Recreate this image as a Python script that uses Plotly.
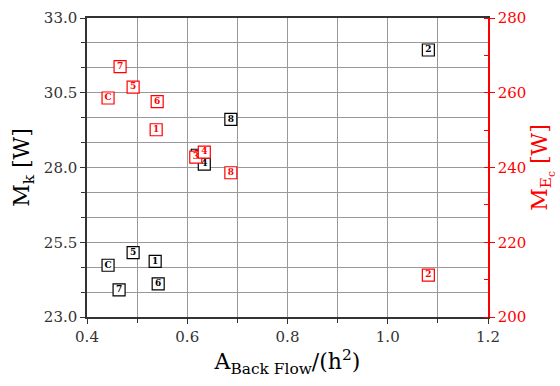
import plotly.graph_objects as go

labels_k = ["C", "1", "2", "3", "4", "5", "6", "7", "8"]
area_k = [0.442, 0.536, 1.081, 0.620, 0.634, 0.492, 0.542, 0.464, 0.687]
mk_vals = [24.73, 24.86, 31.93, 28.41, 28.11, 25.15, 24.11, 23.91, 29.61]

labels_e = ["C", "1", "2", "3", "4", "5", "6", "7", "8"]
area_e = [0.442, 0.538, 1.081, 0.617, 0.634, 0.492, 0.540, 0.466, 0.687]
me_vals = [258.6, 250.1, 211.2, 242.8, 244.1, 261.5, 257.6, 267.0, 238.6]

x_ticks = [0.4, 0.6, 0.8, 1.0, 1.2]
yk_ticks = [23.0, 25.5, 28.0, 30.5, 33.0]
ye_ticks = [200, 220, 240, 260, 280]

FONT = "DejaVu Serif"

fig = go.Figure()
fig.add_trace(go.Scatter(
    x=area_k, y=mk_vals, mode="markers+text", text=labels_k,
    textposition="middle center",
    textfont=dict(family=FONT, size=9, color="black", weight="bold"),
    marker=dict(symbol="square", size=12, color="white",
                line=dict(color="black", width=1.2)),
    showlegend=False, cliponaxis=False,
))
fig.add_trace(go.Scatter(
    x=area_e, y=me_vals, mode="markers+text", text=labels_e, yaxis="y2",
    textposition="middle center",
    textfont=dict(family=FONT, size=9, color="red", weight="bold"),
    marker=dict(symbol="square", size=12, color="white",
                line=dict(color="red", width=1.2)),
    showlegend=False, cliponaxis=False,
))

fig.update_layout(
    width=560, height=386,
    margin=dict(l=87, r=72, t=9, b=69),
    plot_bgcolor="white", paper_bgcolor="white",
    font=dict(family=FONT, size=15, color="#333"),
    xaxis=dict(
        range=[0.4, 1.2], tickvals=x_ticks, ticktext=[f"{v:.1f}" for v in x_ticks],
        showline=True, linecolor="#333", linewidth=1.5, mirror=True,
        ticks="outside", ticklen=5, tickcolor="#333",
        showgrid=True, gridcolor="#999", gridwidth=1,
        minor=dict(dtick=0.1, tick0=0.4, showgrid=True, gridcolor="#999",
                   ticks="outside", ticklen=4, tickcolor="#333"),
        zeroline=False,
        title=dict(text="A<sub>Back Flow</sub>/(h<sup>2</sup>)",
                   font=dict(family=FONT, size=22, color="black"), standoff=6),
        tickfont=dict(family=FONT, size=15, color="#333"),
    ),
    yaxis=dict(
        range=[23.0, 33.0], tickvals=yk_ticks, ticktext=[f"{v:.1f}" for v in yk_ticks],
        showline=True, linecolor="#333", linewidth=1.5,
        ticks="outside", ticklen=5, tickcolor="#333",
        showgrid=True, gridcolor="#999", gridwidth=1,
        minor=dict(dtick=2.5 / 3, tick0=23.0, showgrid=True, gridcolor="#999",
                   ticks="outside", ticklen=4, tickcolor="#333"),
        zeroline=False,
        title=dict(text="M<sub>k</sub> [W]",
                   font=dict(family=FONT, size=22, color="black"), standoff=8),
        tickfont=dict(family=FONT, size=15, color="#333"),
    ),
    yaxis2=dict(
        range=[200, 280], tickvals=ye_ticks, overlaying="y", side="right",
        showline=True, linecolor="red", linewidth=1.5,
        ticks="outside", ticklen=5, tickcolor="red",
        minor=dict(dtick=10, tick0=200, ticks="inside", ticklen=4, tickcolor="red"),
        showgrid=False, zeroline=False,
        title=dict(text="M<sub>E<sub>c</sub></sub> [W]",
                   font=dict(family=FONT, size=22, color="red"), standoff=6),
        tickfont=dict(family=FONT, size=15, color="red"),
    ),
)

fig.write_html("out.html")
